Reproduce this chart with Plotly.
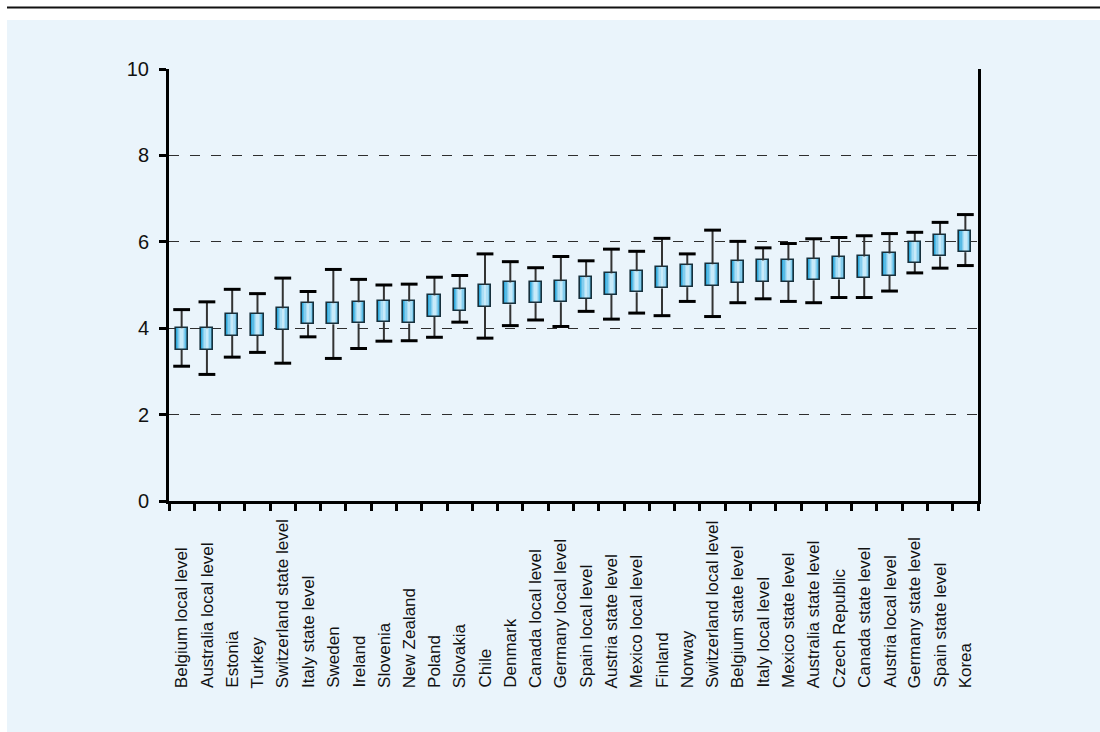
import plotly.graph_objects as go

# Categories (left to right) and box-plot statistics
categories = [
    "Belgium local level", "Australia local level", "Estonia", "Turkey",
    "Switzerland state level", "Italy state level", "Sweden", "Ireland",
    "Slovenia", "New Zealand", "Poland", "Slovakia", "Chile", "Denmark",
    "Canada local level", "Germany local level", "Spain local level",
    "Austria state level", "Mexico local level", "Finland", "Norway",
    "Switzerland local level", "Belgium state level", "Italy local level",
    "Mexico state level", "Australia state level", "Czech Republic",
    "Canada state level", "Austria local level", "Germany state level",
    "Spain state level", "Korea",
]
whisker_high = [4.43, 4.61, 4.90, 4.80, 5.16, 4.85, 5.36, 5.13,
                5.00, 5.02, 5.18, 5.22, 5.72, 5.54, 5.40, 5.66,
                5.56, 5.83, 5.78, 6.08, 5.72, 6.27, 6.01, 5.86,
                5.96, 6.07, 6.10, 6.14, 6.19, 6.22, 6.45, 6.63]
box_top = [4.00, 4.00, 4.34, 4.34, 4.46, 4.58, 4.58, 4.60,
           4.64, 4.62, 4.76, 4.90, 5.00, 5.06, 5.08, 5.09,
           5.18, 5.27, 5.32, 5.42, 5.46, 5.48, 5.55, 5.57,
           5.57, 5.60, 5.64, 5.66, 5.73, 6.00, 6.16, 6.26]
box_bottom = [3.50, 3.50, 3.83, 3.83, 3.97, 4.09, 4.09, 4.11,
              4.14, 4.11, 4.26, 4.40, 4.50, 4.55, 4.58, 4.60,
              4.68, 4.77, 4.83, 4.92, 4.95, 4.98, 5.05, 5.08,
              5.08, 5.11, 5.13, 5.17, 5.22, 5.51, 5.66, 5.76]
whisker_low = [3.12, 2.93, 3.33, 3.44, 3.19, 3.80, 3.30, 3.53,
               3.70, 3.71, 3.79, 4.14, 3.77, 4.06, 4.19, 4.04,
               4.39, 4.21, 4.35, 4.29, 4.62, 4.27, 4.59, 4.68,
               4.62, 4.59, 4.71, 4.71, 4.86, 5.28, 5.39, 5.45]
y_ticks = [0, 2, 4, 6, 8, 10]

TEXT = "#111111"
PANEL = "#eaf4fb"
FONT = "Liberation Sans, Arial, sans-serif"
heights = [t - b for t, b in zip(box_top, box_bottom)]

fig = go.Figure()

# Box bodies: stacked widths give a light-centred horizontal gradient
shades = [(0.48, "#2fa8da"), (0.40, "#58bbe5"), (0.30, "#84cdee"),
          (0.20, "#aadef5"), (0.10, "#c8eaf9")]
for w, c in shades:
    fig.add_trace(go.Bar(x=categories, y=heights, base=box_bottom, width=w,
                         marker=dict(color=c, line=dict(width=0)),
                         hoverinfo="skip", showlegend=False))
# Box outlines on top
fig.add_trace(go.Bar(x=categories, y=heights, base=box_bottom, width=0.48,
                     marker=dict(color="rgba(0,0,0,0)",
                                 line=dict(color="#17303c", width=1.6)),
                     hoverinfo="skip", showlegend=False))

# Whisker stems
sx, sy = [], []
for c, hi, t, b, lo in zip(categories, whisker_high, box_top, box_bottom, whisker_low):
    sx += [c, c, None, c, c, None]
    sy += [t, hi, None, b, lo, None]
fig.add_trace(go.Scatter(x=sx, y=sy, mode="lines",
                         line=dict(color="#333333", width=2),
                         hoverinfo="skip", showlegend=False))
# Whisker caps
fig.add_trace(go.Scatter(x=categories + categories, y=whisker_high + whisker_low,
                         mode="markers",
                         marker=dict(symbol="line-ew", size=12,
                                     line=dict(color="#000000", width=3)),
                         hoverinfo="skip", showlegend=False))

L, R, T, B = 169, 978, 69, 501
W, H = 1100, 732
pw, ph = R - L, B - T


def px(x):
    return (x - L) / pw


def py(y):
    return (B - y) / ph


# Category labels, rotated and aligned along a common baseline at the bottom
labels = [
    dict(x=c, xref="x", y=py(690), yref="paper", text=c, textangle=-90,
         xanchor="center", yanchor="bottom", showarrow=False,
         font=dict(size=17, color=TEXT, family=FONT))
    for c in categories
]

fig.update_layout(
    width=W, height=H,
    margin=dict(l=L, r=W - R, t=T, b=H - B, pad=0),
    paper_bgcolor="white",
    plot_bgcolor="rgba(0,0,0,0)",
    barmode="overlay",
    bargap=0,
    font=dict(family=FONT, color=TEXT),
    annotations=labels,
    shapes=[
        dict(type="rect", xref="paper", yref="paper", layer="below",
             x0=px(7), x1=px(1100), y0=py(20), y1=py(732),
             fillcolor=PANEL, line=dict(width=0)),
        dict(type="line", xref="paper", yref="paper",
             x0=px(7), x1=px(1100), y0=py(7.5), y1=py(7.5),
             line=dict(color="#111111", width=2)),
    ],
)

fig.update_yaxes(
    range=[0, 10], tickvals=y_ticks, ticktext=[str(v) for v in y_ticks],
    ticks="outside", ticklen=7, tickwidth=2.5, tickcolor="#000000",
    showline=True, linecolor="#000000", linewidth=3, mirror=True,
    showgrid=True, gridcolor="#2e2e2e", gridwidth=1.3, griddash="10px,11px",
    zeroline=False,
    tickfont=dict(size=20, color=TEXT, family=FONT),
    ticklabelstandoff=6,
)
fig.update_xaxes(
    type="category", tickson="boundaries",
    ticks="outside", ticklen=7, tickwidth=2.5, tickcolor="#000000",
    showline=True, linecolor="#000000", linewidth=3,
    showgrid=False, zeroline=False, showticklabels=False,
    range=[-0.5, len(categories) - 0.5],
)

fig.write_html("out.html")
